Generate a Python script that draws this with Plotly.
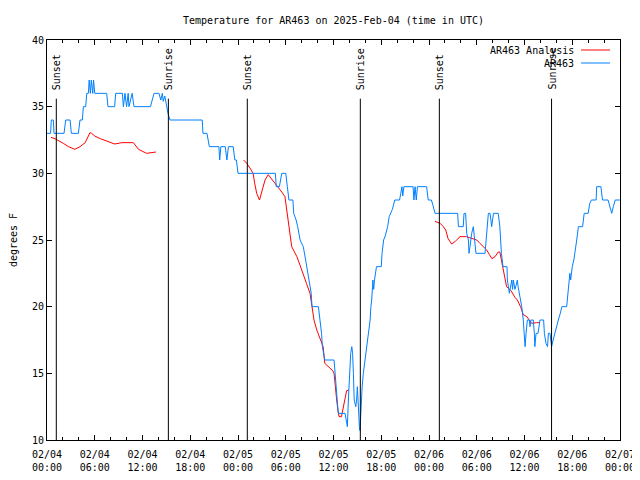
import pandas as pd
import plotly.graph_objects as go

base_time = pd.Timestamp("2025-02-04 00:00")

# Observations (hours since 2025-02-04 00:00 UTC, degrees F)
obs_hours = [0.0, 0.45, 0.54, 0.8, 0.88, 2.14, 2.35, 2.9, 3.06, 3.94, 4.15, 4.44, 4.57, 4.86, 5.0, 5.2, 5.3,
             5.45, 5.57, 5.75, 5.85, 6.0, 7.5, 7.66, 8.5, 8.63, 9.47, 9.6, 9.8, 10.0, 10.2, 10.3, 10.7, 10.93,
             13.0, 13.2, 13.45, 14.07, 14.3, 14.5, 14.6, 14.8, 15.0, 15.2, 15.45, 19.5, 19.6, 20.1, 20.4, 21.6,
             21.7, 21.85, 22.4, 22.6, 22.8, 23.4, 23.6, 23.8, 24.0, 28.7, 28.8, 29.2, 29.5, 30.0, 30.2, 30.4,
             30.9, 31.0, 31.3, 31.5, 31.8, 32.2, 32.5, 32.8, 33.2, 33.3, 34.1, 34.3, 34.5, 34.6, 34.9, 36.07,
             36.2, 36.3, 36.5, 36.6, 37.45, 37.57, 37.74, 37.87, 38.0, 38.16, 38.3, 38.4, 38.5, 38.6, 38.8,
             38.9, 39.0, 39.1, 39.25, 39.33, 39.45, 39.6, 39.75, 39.96, 40.17, 40.4, 40.6, 40.7, 40.8, 40.9,
             40.95, 41.05, 41.15, 41.4, 42.0, 42.1, 42.3, 42.5, 42.8, 43.0, 43.2, 43.4, 43.7, 44.3, 44.45,
             44.6, 44.7, 44.85, 46.0, 46.1, 46.25, 46.4, 46.55, 47.7, 47.9, 48.3, 48.5, 48.75, 51.6, 51.7,
             52.3, 52.4, 52.6, 52.65, 52.74, 52.95, 53.03, 53.15, 53.36, 53.57, 53.7, 53.9, 55.04, 55.16,
             55.33, 55.46, 55.67, 55.88, 56.1, 56.7, 56.9, 57.1, 57.3, 57.8, 57.85, 58.1, 58.4, 58.5, 58.6,
             58.8, 58.95, 59.1, 59.2, 59.35, 59.5, 59.65, 59.85, 59.95, 60.07, 60.2, 60.36, 60.6, 60.7, 60.8,
             61.1, 61.24, 61.3, 61.45, 61.7, 61.95, 62.4, 62.5, 62.7, 62.9, 63.0, 63.2, 63.3, 63.4, 63.6,
             63.8, 64.05, 64.25, 64.5, 64.7, 65.3, 65.45, 65.6, 65.7, 65.8, 66.0, 66.2, 66.35, 66.56, 66.77,
             67.3, 67.5, 68.0, 68.2, 68.4, 69.0, 69.07, 69.6, 69.8, 70.5, 70.75, 70.96, 71.16, 71.4, 72.0]
obs_temps = [33, 33, 34, 34, 33, 33, 34, 34, 33, 33, 34, 34, 35, 35, 36, 36, 37,
             36, 37, 36, 37, 36, 36, 35, 35, 36, 36, 35, 36, 35, 36, 35, 36, 35,
             35, 35.5, 36, 36, 35.5, 36, 35.4, 35.8, 35, 34.5, 34, 34, 33, 33, 32, 32,
             31, 32, 32, 31, 32, 32, 31, 31, 30, 30, 29, 29, 30, 30, 29, 28,
             28, 27, 26.5, 26, 25, 24.5, 23.5, 22.5, 21, 20, 20, 19, 18, 17, 16, 16,
             15, 14, 13, 12, 12, 11.5, 11, 13, 15, 16.5, 17, 16.5, 15, 13, 12.5,
             13, 14, 12.5, 11, 10.7, 12.5, 14, 15, 16, 17, 18, 19, 20, 20.5, 21.5,
             22, 21.3, 22, 23, 23, 24, 25, 25.3, 26, 26.75, 27, 27.3, 28, 28, 28.5,
             29, 28.3, 29, 29, 28, 29, 28, 29, 29, 28, 28, 27.6, 27, 27, 26,
             26, 27, 27, 26, 25.5, 25, 24, 24.5, 25.5, 26, 25, 24, 24, 25,
             26, 27, 27, 26, 27, 27, 26, 24, 23, 23, 22, 21, 22, 21.3, 22,
             21.3, 21.6, 22, 21.5, 21, 20.5, 20, 19, 18, 17, 18, 19, 19, 18.5, 19,
             19, 18, 17, 18, 18, 19, 19, 18, 17.25, 17, 18, 18, 17.3, 17, 17.5,
             18, 18.5, 19, 19.5, 20, 20, 21, 22, 22.5, 22, 23, 23.5, 24, 25, 26,
             26, 27, 27, 27.75, 28, 28, 29, 29, 28, 28, 27.5, 27, 27.5, 28, 28]

# Analysis (None = gap)
ana_hours = [0.5, 1.0, 2.05, 2.7, 3.5, 4.15, 4.8, 5.2, 5.4, 5.6, 6.0, 6.7, 7.5, 8.5, 9.4, 10.85, 11.5, 12.5, 13.7,
             None,
             24.7, 25.1, 25.5, 25.9, 26.1, 26.35, 26.7, 27.0, 27.4, 27.8, 28.2, 28.65, 29.1, 29.5, 29.9, 30.1,
             30.3, 30.5, 30.75, 30.95, 31.4, 31.8, 32.2, 32.6, 33.05, 33.3, 33.55, 33.9, 34.3, 34.7, 34.9,
             35.4, 35.9, 36.07, 36.2, 36.4, 36.55, 36.7, 37.0, 37.2, 37.45, 37.65, 37.95,
             None,
             48.75, 49.4, 49.8, 50.1, 50.4, 50.85, 51.3, 51.9, 52.7, 53.4, 54.0, 54.4, 54.8, 55.25, 55.6,
             55.9, 56.3, 56.7, 56.9, 57.1, 57.25, 57.4, 57.55, 57.75, 57.95, 58.3, 58.8, 59.1, 59.5, 59.85,
             60.3, 60.7, 60.9, 61.5, 61.95]
ana_temps = [32.7, 32.6, 32.25, 32.0, 31.8, 32.0, 32.3, 32.9, 33.05, 33.0, 32.8, 32.6, 32.4, 32.2, 32.3, 32.3,
             31.8, 31.5, 31.6,
             None,
             31.0, 30.75, 30.4, 30.0, 29.25, 28.5, 28.0, 28.6, 29.5, 29.9, 29.6, 29.25, 28.95, 28.6, 28.25,
             27.25, 26.4, 25.6, 24.5, 24.25, 23.75, 23.1, 22.5, 21.75, 21.0, 20.0, 19.0, 18.25, 17.6, 17.0,
             15.75, 15.45, 15.2, 15.0, 14.0, 13.0, 12.25, 11.75, 11.75, 12.5, 13.1, 13.7, 13.75,
             None,
             26.4, 26.25, 26.0, 25.75, 25.1, 24.7, 24.9, 25.25, 25.25, 25.1, 25.0, 24.75, 24.5, 24.25, 23.9,
             23.6, 23.75, 24.1, 24.1, 23.5, 23.0, 22.5, 22.0, 21.5, 21.4, 21.2, 20.7, 20.5, 20.0, 19.4,
             19.25, 18.9, 18.75, 18.8, 18.8]

sun_hours = [1.17, 15.25, 25.17, 39.37, 49.3, 63.4]
sun_labels = ["Sunset", "Sunrise", "Sunset", "Sunrise", "Sunset", "Sunrise"]

tick_hours = [0, 6, 12, 18, 24, 30, 36, 42, 48, 54, 60, 66, 72]
tick_labels = ["02/04<br>00:00", "02/04<br>06:00", "02/04<br>12:00", "02/04<br>18:00",
               "02/05<br>00:00", "02/05<br>06:00", "02/05<br>12:00", "02/05<br>18:00",
               "02/06<br>00:00", "02/06<br>06:00", "02/06<br>12:00", "02/06<br>18:00",
               "02/07<br>00:00"]

series_names = ["AR463 Analysis", "AR463"]
series_colors = ["#ff0000", "#0080ff"]


def to_time(h):
    return None if h is None else base_time + pd.Timedelta(hours=h)


FONT = "DejaVu Sans Mono"
fig = go.Figure()
fig.add_trace(go.Scatter(x=[to_time(h) for h in ana_hours], y=ana_temps, mode="lines",
                         name=series_names[0], line=dict(color=series_colors[0], width=1),
                         connectgaps=False, showlegend=False))
fig.add_trace(go.Scatter(x=[to_time(h) for h in obs_hours], y=obs_temps, mode="lines",
                         name=series_names[1], line=dict(color=series_colors[1], width=1),
                         showlegend=False))

shapes = []
annotations = []
for h, lab in zip(sun_hours, sun_labels):
    t = to_time(h)
    shapes.append(dict(type="line", xref="x", yref="y", x0=t, x1=t, y0=10, y1=35.6,
                       line=dict(color="black", width=1)))
    annotations.append(dict(x=t, y=36.1, xref="x", yref="y", text=lab, textangle=-90,
                            showarrow=False, xanchor="center", yanchor="bottom",
                            font=dict(family=FONT, size=10, color="black")))

# manual legend: text then line sample (gnuplot style)
legend_y = [0.975, 0.9425]
for name, col, ly in zip(series_names, series_colors, legend_y):
    annotations.append(dict(x=0.923, y=ly, xref="paper", yref="paper", text=name, showarrow=False,
                            xanchor="right", yanchor="middle", font=dict(family=FONT, size=10, color="black")))
    shapes.append(dict(type="line", xref="paper", yref="paper", x0=0.932, x1=0.9825, y0=ly, y1=ly,
                       line=dict(color=col, width=1)))

# the page body adds an 8px offset; figure is sized so that it ends at the window edge
fig.update_layout(
    width=632, height=472,
    margin=dict(l=39, r=20, t=32, b=40, autoexpand=False),
    paper_bgcolor="white", plot_bgcolor="white",
    font=dict(family=FONT, size=10, color="black"),
    title=dict(text="Temperature for AR463 on 2025-Feb-04 (time in UTC)", xref="paper", x=0.5,
               xanchor="center", y=1 - 12 / 472, yanchor="middle", font=dict(family=FONT, size=10)),
    shapes=shapes, annotations=annotations, showlegend=False,
)
fig.update_xaxes(range=[to_time(0), to_time(72)], tickvals=[to_time(h) for h in tick_hours],
                 ticktext=tick_labels, ticks="inside", ticklen=5, tickcolor="black",
                 showline=True, linecolor="black", linewidth=1, mirror="allticks",
                 showgrid=False, zeroline=False, automargin=False, ticklabelstandoff=5,
                 minor=dict(dtick=2 * 3600 * 1000, ticks="inside", ticklen=3, tickcolor="black", showgrid=False))
fig.update_yaxes(range=[10, 40], dtick=5, ticks="inside", ticklen=5, tickcolor="black",
                 showline=True, linecolor="black", linewidth=1, mirror="allticks",
                 showgrid=False, zeroline=False, automargin=False,
                 title=dict(text="degrees F", standoff=18, font=dict(family=FONT, size=10)))

fig.write_html("out.html")
